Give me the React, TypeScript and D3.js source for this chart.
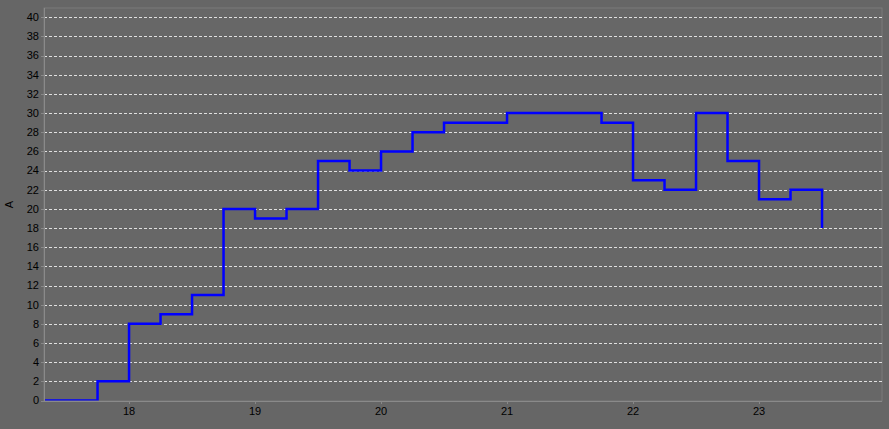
import React from "react";
import * as d3 from "d3";

const times: number[] = [17.25, 17.5, 17.75, 18, 18.25, 18.5, 18.75, 19, 19.25, 19.5, 19.75, 20, 20.25, 20.5, 20.75, 21, 21.25, 21.5, 21.75, 22, 22.25, 22.5, 22.75, 23, 23.25, 23.5];
const values: number[] = [0, 0, 2, 8, 9, 11, 20, 19, 20, 25, 24, 26, 28, 29, 29, 30, 30, 30, 29, 23, 22, 30, 25, 21, 22, 18];
const xTicks: number[] = [18, 19, 20, 21, 22, 23];
const yTicks: number[] = d3.range(0, 41, 2);
const yLabel = "A";

const W = 889, H = 429;
const left = 44, right = 882, top = 8, bottom = 401;

export default function App() {
  const x = d3.scaleLinear().domain([17.325, 23.976]).range([left, right]);
  const y = d3.scaleLinear().domain([0, 40]).range([400.5, 17.3]);
  const data = times.map((t, i) => [t, values[i]] as [number, number]);
  const line = d3.line<[number, number]>().x(d => x(d[0])).y(d => y(d[1])).curve(d3.curveStepAfter);
  const font = "'Liberation Sans', Arial, sans-serif";
  return (
    <svg width={W} height={H} style={{ position: "absolute", left: 0, top: 0, display: "block" }}>
      <rect x={0} y={0} width={W} height={H} fill="#666666" />
      <defs>
        <clipPath id="plot"><rect x={left + 1} y={top} width={right - left - 1} height={bottom - top - 0.5} /></clipPath>
      </defs>
      <rect x={left} y={top} width={right - left} height={bottom - top} fill="#676767" stroke="#7a7a7a" strokeWidth={1} />
      {yTicks.map(t => (
        <g key={t}>
          {t > 0 && <line x1={left} x2={right} y1={Math.round(y(t)) + 0.5} y2={Math.round(y(t)) + 0.5} stroke="#e0e0e0" strokeWidth={1} strokeDasharray="3,2" />}
          <line x1={left - 3} x2={left} y1={Math.round(y(t)) + 0.5} y2={Math.round(y(t)) + 0.5} stroke="#888" />
          <text x={left - 5} y={y(t)} dy="0.35em" textAnchor="end" fontSize={11} fontFamily={font} fill="#000">{t}</text>
        </g>
      ))}
      <line x1={left + 0.5} x2={left + 0.5} y1={top} y2={bottom} stroke="#8a8a8a" />
      <line x1={left} x2={right} y1={bottom + 0.5} y2={bottom + 0.5} stroke="#8a8a8a" />
      {xTicks.map(t => (
        <g key={t}>
          <line x1={Math.round(x(t)) + 0.5} x2={Math.round(x(t)) + 0.5} y1={bottom} y2={bottom + 3} stroke="#888" />
          <text x={x(t)} y={415} textAnchor="middle" fontSize={11} fontFamily={font} fill="#000">{t}</text>
        </g>
      ))}
      <text transform={`translate(13,${(top + bottom) / 2}) rotate(-90)`} textAnchor="middle" fontSize={11} fontFamily={font} fill="#000">{yLabel}</text>
      <path d={line(data) || ""} fill="none" stroke="#0000ff" strokeWidth={2.5} clipPath="url(#plot)" />
    </svg>
  );
}
